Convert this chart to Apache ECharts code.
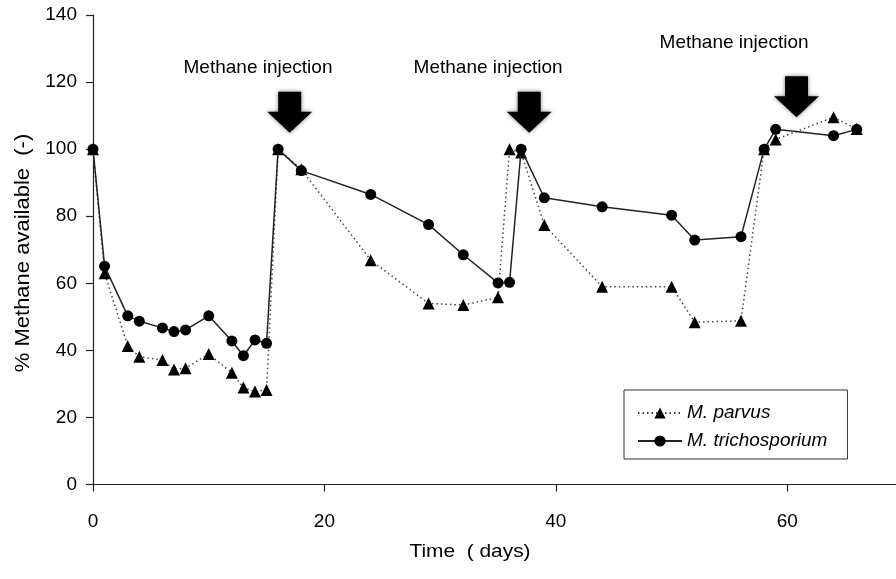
<!DOCTYPE html>
<html>
<head>
<meta charset="utf-8">
<script src="https://cdn.jsdelivr.net/npm/echarts@6/dist/echarts.min.js"></script>
<style>
  html, body { margin: 0; padding: 0; background: #fff; }
  #chart { width: 896px; height: 579px; }
</style>
</head>
<body>
<div id="chart"></div>
<script>
// ---- data ----
const parvusDays = [0, 1, 3, 4, 6, 7, 8, 10, 12, 13, 14, 15, 16, 18, 24, 29, 32, 35, 36, 37, 39, 44, 50, 52, 56, 58, 59, 64, 66];
const parvusValues = [100, 63, 41.3, 38.1, 37.1, 34.3, 34.7, 38.9, 33.3, 28.9, 27.7, 28.2, 100, 94, 66.9, 54, 53.5, 55.8, 100, 99, 77.4, 59, 59, 48.4, 48.8, 100, 102.9, 109.5, 106];
const trichDays = [0, 1, 3, 4, 6, 7, 8, 10, 12, 13, 14, 15, 16, 18, 24, 29, 32, 35, 36, 37, 39, 44, 50, 52, 56, 58, 59, 64, 66];
const trichValues = [100, 65.1, 50.3, 48.7, 46.7, 45.6, 46.1, 50.3, 42.8, 38.4, 43.1, 42.1, 100, 93.6, 86.5, 77.5, 68.5, 60.1, 60.3, 100, 85.5, 82.8, 80.3, 72.9, 73.9, 100, 105.9, 104, 105.9];
const seriesNames = ['M. parvus', 'M. trichosporium'];
const arrowDays = [17.0, 37.7, 60.8];
const arrowLevels = [111.0, 111.0, 115.6];
const injectionLabel = 'Methane injection';
const injectionDays = [14.26, 34.14, 55.4];
const injectionLevels = [124.2, 124.2, 131.6];
const xTicks = [0, 20, 40, 60];
const yTicks = [0, 20, 40, 60, 80, 100, 120, 140];
const xTitle = 'Time  ( days)';
const yTitle = '% Methane available  (-)';

const FONT = '"Liberation Sans", Arial, sans-serif';
const zip = (a, b) => a.map((v, i) => [v, b[i]]);

const chart = echarts.init(document.getElementById('chart'), null, { renderer: 'canvas' });

const arrowPath = 'path://M11 0 L34 0 L34 20 L45 20 L22.5 41 L0 20 L11 20 Z';

chart.setOption({
  animation: false,
  backgroundColor: '#ffffff',
  grid: { left: 93, top: 15, width: 810, height: 469.5, containLabel: false, outerBoundsMode: 'none' },
  xAxis: {
    type: 'value', min: 0, max: 70, interval: 20,
    axisLine: { show: true, onZero: false, lineStyle: { color: '#222', width: 1.2 } },
    axisTick: { show: true, length: 7, inside: false, lineStyle: { color: '#222', width: 1.2 } },
    axisLabel: {
      show: true, margin: 28, fontSize: 19, fontFamily: FONT, color: '#000',
      formatter: v => (xTicks.indexOf(v) >= 0 ? String(v) : '')
    },
    splitLine: { show: false }
  },
  yAxis: {
    type: 'value', min: 0, max: 140, interval: 20,
    axisLine: { show: true, onZero: false, lineStyle: { color: '#222', width: 1.2 } },
    axisTick: { show: true, length: 7, inside: false, lineStyle: { color: '#222', width: 1.2 } },
    axisLabel: {
      show: true, margin: 16, fontSize: 19, fontFamily: FONT, color: '#000',
      formatter: v => (yTicks.indexOf(v) >= 0 ? String(v) : '')
    },
    splitLine: { show: false }
  },
  legend: {
    data: seriesNames,
    orient: 'vertical',
    left: 624, top: 390,
    padding: [13, 20, 8, 13],
    itemGap: 8,
    itemWidth: 44, itemHeight: 14,
    borderColor: '#333', borderWidth: 1, borderRadius: 0,
    backgroundColor: '#fff',
    textStyle: { fontSize: 19, fontStyle: 'italic', fontFamily: FONT, color: '#000', lineHeight: 20 }
  },
  graphic: [
    { type: 'text', x: 470, y: 552, scaleX: 1.1, silent: true,
      style: { text: xTitle, fontSize: 19, fontFamily: FONT, fill: '#000', textAlign: 'center', textVerticalAlign: 'middle' } },
    { type: 'text', x: 23, y: 253, rotation: Math.PI / 2, scaleX: 1.1, silent: true,
      style: { text: yTitle, fontSize: 20, fontFamily: FONT, fill: '#000', textAlign: 'center', textVerticalAlign: 'middle' } }
  ],
  series: [
    {
      name: seriesNames[0], type: 'line', data: zip(parvusDays, parvusValues),
      symbol: 'triangle', symbolSize: 12, showSymbol: true,
      lineStyle: { color: '#444', width: 1.5, type: [1.5, 3] },
      itemStyle: { color: '#000' }, z: 2
    },
    {
      name: seriesNames[1], type: 'line', data: zip(trichDays, trichValues),
      symbol: 'circle', symbolSize: 11, showSymbol: true,
      lineStyle: { color: '#222', width: 1.5, type: 'solid' },
      itemStyle: { color: '#000' }, z: 3
    },
    {
      name: 'arrows', type: 'scatter', data: zip(arrowDays, arrowLevels),
      symbol: arrowPath, symbolSize: [45, 41], silent: true, z: 4,
      itemStyle: { color: '#000', opacity: 1, shadowBlur: 4, shadowColor: 'rgba(0,0,0,0.5)' }
    },
    {
      name: 'injection', type: 'scatter', data: zip(injectionDays, injectionLevels),
      symbolSize: 1, silent: true, z: 4,
      itemStyle: { color: 'rgba(0,0,0,0)', opacity: 1 },
      label: { show: true, position: 'inside', formatter: () => injectionLabel,
               fontSize: 19, fontFamily: FONT, color: '#000', opacity: 1 }
    }
  ]
});
</script>
</body>
</html>
